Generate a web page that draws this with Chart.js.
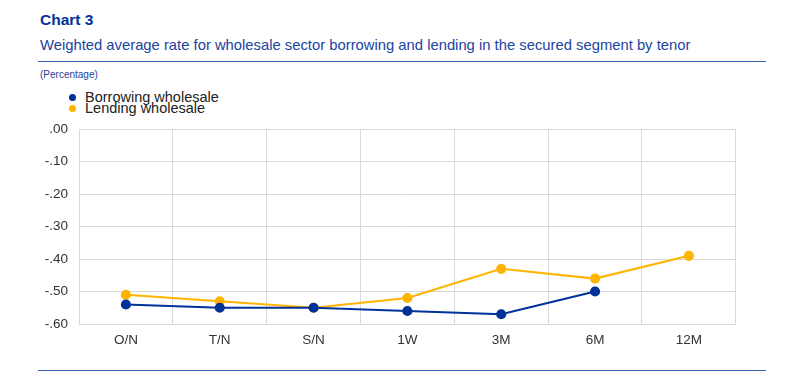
<!DOCTYPE html>
<html>
<head>
<meta charset="utf-8">
<script src="https://cdn.jsdelivr.net/npm/chart.js@4"></script>
<style>
  body { margin: 0; background: #fff; font-family: "Liberation Sans", Arial, sans-serif; }
  #wrap { position: relative; width: 800px; height: 385px; overflow: hidden; }
  #titulo { position: absolute; left: 40px; top: 11px; font-size: 15.5px; font-weight: bold; color: #003299; }
  #subtitulo { position: absolute; left: 40px; top: 37px; font-size: 14.8px; color: #1b44a0; }
  .regua { position: absolute; left: 38px; width: 728px; height: 1px; background: #3a5fb0; }
  #unidade { position: absolute; left: 40px; top: 69px; font-size: 10px; color: #1b44a0; }
  #legenda { position: absolute; left: 69px; top: 92px; font-size: 14.5px; color: #222; line-height: 11px; }
  #legenda div { position: relative; padding-left: 16px; }
  #legenda span.ponto { position: absolute; left: 0; top: 2px; width: 7px; height: 7px; border-radius: 50%; }
  #grafico { position: absolute; left: 0; top: 110px; }
</style>
</head>
<body>
<div id="wrap">
  <div id="titulo">Chart 3</div>
  <div id="subtitulo">Weighted average rate for wholesale sector borrowing and lending in the secured segment by tenor</div>
  <div class="regua" style="top:61px"></div>
  <div id="unidade">(Percentage)</div>
  <div id="legenda"></div>
  <div id="grafico" style="width:742px;height:244px"><canvas id="c"></canvas></div>
  <div class="regua" style="top:370px"></div>
</div>
<script>
// categorias (prazos)
const prazos = ['O/N', 'T/N', 'S/N', '1W', '3M', '6M', '12M'];
// taxas (%)
const captacao = [-0.54, -0.55, -0.55, -0.56, -0.57, -0.50, null];
const aplicacao = [-0.51, -0.53, -0.55, -0.52, -0.43, -0.46, -0.39];
const ticksY = [0, -0.1, -0.2, -0.3, -0.4, -0.5, -0.6];

const series = [
  { label: 'Borrowing wholesale', data: captacao, cor: '#003299' },
  { label: 'Lending wholesale', data: aplicacao, cor: '#ffb400' }
];

// legenda em HTML (empilhada como no original)
const legenda = document.getElementById('legenda');
series.forEach(s => {
  const d = document.createElement('div');
  d.innerHTML = `<span class="ponto" style="background:${s.cor}"></span>${s.label}`;
  legenda.appendChild(d);
});

const formatar = v => {
  const t = Math.abs(v) < 1e-9 ? '0.00' : v.toFixed(2);
  return t.replace('0.', '.');
};

new Chart(document.getElementById('c'), {
  type: 'line',
  data: {
    labels: prazos,
    datasets: series.map(s => ({
      label: s.label,
      data: s.data,
      borderColor: s.cor,
      backgroundColor: s.cor,
      borderWidth: 2.2,
      pointRadius: 4,
      pointHoverRadius: 4,
      tension: 0,
      spanGaps: false
    }))
  },
  options: {
    responsive: true,
    maintainAspectRatio: false,
    animation: false,
    layout: { padding: { top: 2, right: 0, left: 0, bottom: 0 } },
    plugins: { legend: { display: false }, tooltip: { enabled: false } },
    scales: {
      x: {
        offset: true,
        grid: { color: '#d9d9d9', lineWidth: 1, offset: true, drawTicks: false },
        border: { color: '#d9d9d9' },
        ticks: { color: '#333', font: { family: 'Liberation Sans', size: 13.5 }, padding: 8 },
        afterFit: s => { s.height = 30; }
      },
      y: {
        min: -0.6,
        max: 0,
        afterBuildTicks: s => { s.ticks = ticksY.map(v => ({ value: v })); },
        grid: { color: '#d9d9d9', lineWidth: 1, drawTicks: false },
        border: { color: '#d9d9d9' },
        ticks: { color: '#333', font: { family: 'Liberation Sans', size: 13.5 }, padding: 11, callback: v => formatar(v) },
        afterFit: s => { s.width = 79; }
      }
    }
  }
});
</script>
</body>
</html>
